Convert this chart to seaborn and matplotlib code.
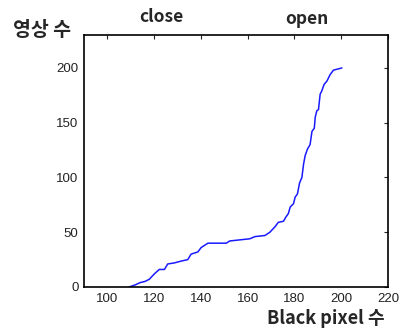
import matplotlib
matplotlib.use("Agg")
import matplotlib.pyplot as plt
import seaborn as sns
import pandas as pd

# black pixel count vs. cumulative number of images
black_px = [109.3, 112, 114, 116, 117.9, 120.1, 122.2, 124.4, 125.8, 128.7, 131.5, 134.4,
            135.8, 138.7, 140.1, 143, 150.9, 152.3, 156.6, 160.9, 163.1, 167.4, 169.5,
            171.7, 173.1, 175.3, 176.4, 177.4, 178.2, 179.6, 180.3, 181.3, 182.2, 183.2,
            183.9, 184.6, 185.6, 186.7, 187.5, 188.5, 188.9, 189.6, 190.3, 191, 191.7,
            192.7, 193.9, 195.3, 196.7, 200.3]
n_images = [0, 2, 4, 5, 7, 12, 16, 16, 21, 22, 23.6, 25,
            30, 32, 36, 40, 40, 42, 43, 44, 46, 47, 50,
            55, 59, 60, 64, 67, 73, 76, 82, 85, 95, 100,
            112, 120, 126, 130, 142, 145, 155, 161, 162, 176, 179,
            185, 188, 194, 198, 200]
x_ticks = [100, 120, 140, 160, 180, 200, 220]
y_ticks = [0, 50, 100, 150, 200]

df = pd.DataFrame({'x': black_px, 'y': n_images})

sns.set_style("white")
plt.rcParams['font.family'] = ['Liberation Sans', 'DejaVu Sans']

fig = plt.figure(figsize=(4.02, 3.31), dpi=100)
ax = fig.add_axes([0.209, 0.133, 0.756, 0.761])
sns.lineplot(data=df, x='x', y='y', ax=ax, color='#1a1aff', lw=1.1)

ax.set_xlim(90, 220)
ax.set_ylim(0, 230)
ax.set_xticks(x_ticks)
ax.set_yticks(y_ticks)
ax.set_xlabel('')
ax.set_ylabel('')
ax.tick_params(direction='in', length=3, width=0.8, top=True, right=True,
               labelsize=9.5, colors='#222222', pad=4)
for s in ax.spines.values():
    s.set_color('black')
    s.set_linewidth(1.2)

kfont = ['Noto Sans CJK KR', 'DejaVu Sans']
fig.text(161 / 402, 1 - 17 / 331, 'close', ha='center', va='center', fontsize=12.5,
         fontweight='bold', family=kfont)
fig.text(307 / 402, 1 - 19 / 331, 'open', ha='center', va='center', fontsize=12.5,
         fontweight='bold', family=kfont)
fig.text(42 / 402, 1 - 30 / 331, '영상 수', ha='center', va='center', fontsize=14,
         fontweight='bold', family=kfont)
fig.text(326 / 402, 1 - 319 / 331, 'Black pixel 수', ha='center', va='center', fontsize=13,
         fontweight='bold', family=kfont)

fig.savefig('out.png', dpi=100)
